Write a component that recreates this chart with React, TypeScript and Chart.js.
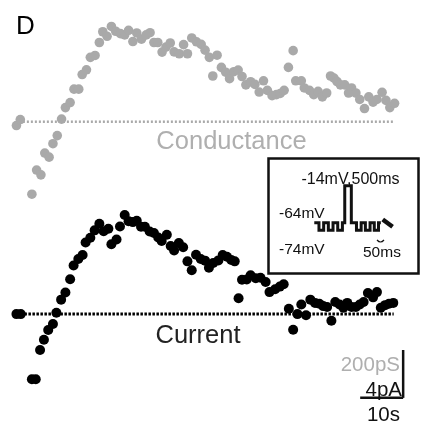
import React, { useEffect, useRef } from "react";
import { Chart, registerables } from "chart.js";
Chart.register(...registerables);

const W = 427;
const H = 429;

// Conductance trace (grey): time (s) and conductance change (pS)
const tCond = [0.0,0.9,3.6,4.7,5.7,6.6,7.6,8.5,9.5,10.5,11.4,12.5,13.4,14.5,15.3,16.3,17.2,18.3,19.3,20.1,21.1,22.1,23.1,24.2,25.2,26.1,27.1,28.0,29.1,30.2,31.1,32.0,32.9,33.9,34.8,35.8,36.7,37.9,38.9,39.8,40.8,41.9,43.0,43.9,44.9,45.7,46.7,47.7,48.7,49.6,50.6,51.6,52.5,53.4,54.5,55.5,56.5,57.5,58.4,59.5,60.5,61.4,62.3,63.3,64.4,65.0,66.3,67.0,68.2,69.2,70.2,71.2,72.2,73.1,73.9,74.6,75.4,76.4,77.3,78.0,79.0,79.9,81.0,82.0,83.0,83.9,85.1,86.0,86.9,88.0];
const gCond = [-16,9,-303,-202,-222,-131,-148,-92,-58,11,59,80,136,136,197,217,269,277,331,376,357,398,378,368,363,382,335,371,345,363,372,331,331,291,312,329,292,284,322,284,350,334,323,299,269,191,278,227,207,180,209,216,189,154,167,156,124,171,131,109,113,118,131,227,297,171,171,141,131,113,127,104,120,191,182,168,154,154,120,141,120,93,55,104,82,93,123,89,59,77];

// Current trace (black): time (s) and current (pA)
const tCur = [0.0,1.0,3.6,4.5,5.5,6.4,7.4,8.5,9.3,10.4,11.4,12.5,13.3,14.4,15.4,16.1,17.2,18.2,19.3,20.3,21.4,22.1,23.3,24.1,25.2,26.1,27.1,28.0,29.0,29.9,31.0,32.0,33.0,33.8,35.0,35.9,36.7,37.8,38.8,39.8,40.8,41.8,42.9,43.9,44.8,45.8,47.0,48.0,49.0,50.0,50.8,51.7,52.5,53.6,54.5,55.7,56.8,58.0,58.9,60.2,61.3,62.2,63.4,64.4,65.4,66.3,67.4,68.4,69.5,70.5,71.4,72.3,73.3,74.2,75.2,76.1,77.0,78.0,79.0,79.9,80.8,81.8,83.0,83.9,84.8,85.8,86.7,87.7];
const iCur = [0.0,0.0,-5.45,-5.45,-3.0,-2.14,-1.32,-0.83,0.12,1.21,1.81,2.92,4.07,4.61,4.94,5.98,6.38,7.0,7.55,6.92,7.14,5.84,6.24,7.33,8.29,7.77,7.69,7.80,7.31,7.31,6.90,6.78,6.41,6.12,6.63,5.70,5.32,5.94,5.59,4.41,3.66,4.96,4.61,4.47,3.88,4.27,4.49,4.94,4.79,4.53,4.41,1.32,2.88,2.90,3.25,3.00,3.04,2.68,1.84,2.08,2.30,2.49,0.45,-1.31,0.0,0.80,-0.10,1.21,0.94,0.86,0.67,0.59,-0.56,1.02,0.80,0.53,0.94,0.59,0.59,0.80,1.02,1.76,1.40,1.84,0.53,0.75,0.86,0.94];

// Baselines (dotted): time span
const baseCond = [1.5, 87.8];
const baseCur = [0.0, 87.8];

// Scale bars: 10 s, 4 pA (= 200 pS)
const barT = [80, 90];
const barI = [-7, -3];

// Voltage protocol schematic (inset): schematic time units and mV
const waveU = [0,1,1,2,2,3,3,4,4,5,5,6,6,6.5,6.5,7.9,7.9,9,9,10,10,10.9,10.9,11.9,11.9,12.8,12.8,13.7,13.7,14.2];
const waveV = [-64,-64,-74,-74,-64,-64,-74,-74,-64,-64,-74,-74,-64,-64,-14,-14,-64,-64,-74,-74,-64,-64,-74,-74,-64,-64,-74,-74,-64,-64];
const arrowU = [14.6, 16.7];
const arrowV = [-59.5, -69.3];

const zip = (xs: number[], ys: number[]) => xs.map((x, i) => ({ x, y: ys[i] }));

const GREY = "#a9a9a9";
const GREY_TEXT = "#afafaf";

const decor = {
  id: "decor",
  afterDraw(chart: any) {
    const ctx = chart.ctx as CanvasRenderingContext2D;
    ctx.save();
    ctx.strokeStyle = "#111";
    ctx.lineWidth = 2.5;
    ctx.strokeRect(268.5, 158.5, 150, 115);
    ctx.lineWidth = 1.2;
    ctx.beginPath();
    ctx.moveTo(377, 240);
    ctx.quadraticCurveTo(380.5, 244, 384, 240);
    ctx.stroke();

    const txt = (s: string, x: number, y: number, size: number, color: string, align: CanvasTextAlign) => {
      ctx.font = `${size}px "Liberation Sans", Arial, sans-serif`;
      ctx.fillStyle = color;
      ctx.textAlign = align;
      ctx.textBaseline = "alphabetic";
      ctx.fillText(s, x, y);
    };
    txt("D", 16, 33.5, 26, "#000", "left");
    txt("Conductance", 231.5, 149, 25.5, GREY_TEXT, "center");
    txt("Current", 198, 343, 25.5, "#222", "center");
    txt("-14mV,500ms", 350.5, 183.5, 16, "#111", "center");
    txt("-64mV", 279, 217.7, 15.5, "#111", "left");
    txt("-74mV", 279, 253.5, 15.5, "#111", "left");
    txt("50ms", 363, 257.3, 15.5, "#111", "left");
    txt("200pS", 400, 370.5, 20.5, GREY_TEXT, "right");
    txt("4pA", 402, 395.5, 20.5, "#111", "right");
    txt("10s", 400, 420.7, 20.5, "#111", "right");
    ctx.restore();
  },
};

export default function App() {
  const ref = useRef<HTMLCanvasElement>(null);
  useEffect(() => {
    const canvas = ref.current!;
    const chart = new Chart(canvas, {
      type: "scatter",
      data: {
        datasets: [
          {
            data: zip(tCond, gCond),
            xAxisID: "x",
            yAxisID: "yG",
            backgroundColor: GREY,
            pointBackgroundColor: GREY,
            borderWidth: 0,
            pointBorderWidth: 0,
            pointRadius: 4.8,
            order: 0,
          },
          {
            data: zip(tCur, iCur),
            xAxisID: "x",
            yAxisID: "yI",
            backgroundColor: "#000",
            pointBackgroundColor: "#000",
            borderWidth: 0,
            pointBorderWidth: 0,
            pointRadius: 5,
            order: 0,
          },
          {
            data: zip(baseCond, [0, 0]),
            xAxisID: "x",
            yAxisID: "yG",
            showLine: true,
            borderColor: GREY,
            borderWidth: 2.5,
            borderDash: [2, 2],
            pointRadius: 0,
            order: 2,
          },
          {
            data: zip(baseCur, [0, 0]),
            xAxisID: "x",
            yAxisID: "yI",
            showLine: true,
            borderColor: "#000",
            borderWidth: 3,
            borderDash: [2.5, 1.5],
            pointRadius: 0,
            order: 2,
          },
          {
            data: zip([barT[1], barT[1]], barI),
            xAxisID: "x",
            yAxisID: "yI",
            showLine: true,
            borderColor: "#111",
            borderWidth: 2.5,
            pointRadius: 0,
            order: 1,
          },
          {
            data: zip(barT, [barI[0], barI[0]]),
            xAxisID: "x",
            yAxisID: "yI",
            showLine: true,
            borderColor: "#111",
            borderWidth: 2.5,
            pointRadius: 0,
            order: 1,
          },
          {
            data: zip(waveU, waveV),
            xAxisID: "xW",
            yAxisID: "yW",
            showLine: true,
            borderColor: "#111",
            borderWidth: 3,
            borderJoinStyle: "miter",
            pointRadius: 0,
            order: 1,
          },
          {
            data: zip(arrowU, arrowV),
            xAxisID: "xW",
            yAxisID: "yW",
            showLine: true,
            borderColor: "#111",
            borderWidth: 4.5,
            pointRadius: 0,
            order: 1,
          },
        ],
      },
      options: {
        responsive: false,
        devicePixelRatio: 1,
        animation: false,
        layout: { padding: 0 },
        elements: { point: { radius: 4.8, borderWidth: 0 } },
        plugins: { legend: { display: false }, tooltip: { enabled: false } },
        scales: {
          x: { type: "linear", axis: "x", display: false, min: -11.7 / 4.4, max: (427 - 11.7) / 4.4 },
          yG: { type: "linear", axis: "y", display: false, min: -309.5 / 0.245, max: 119.5 / 0.245 },
          yI: { type: "linear", axis: "y", display: false, min: -112.5 / 12.25, max: 316.5 / 12.25 },
          xW: { type: "linear", axis: "x", display: false, min: -316.7 / 4.8, max: (427 - 316.7) / 4.8 },
          yW: { type: "linear", axis: "y", display: false, min: -64 - (429 - 223) / 0.76, max: -64 + 223 / 0.76 },
        } as any,
      },
      plugins: [decor],
    } as any);
    return () => chart.destroy();
  }, []);
  return (
    <div style={{ position: "fixed", left: 0, top: 0, width: W, height: H, background: "#fff" }}>
      <canvas ref={ref} width={W} height={H} style={{ display: "block", width: W, height: H }} />
    </div>
  );
}
